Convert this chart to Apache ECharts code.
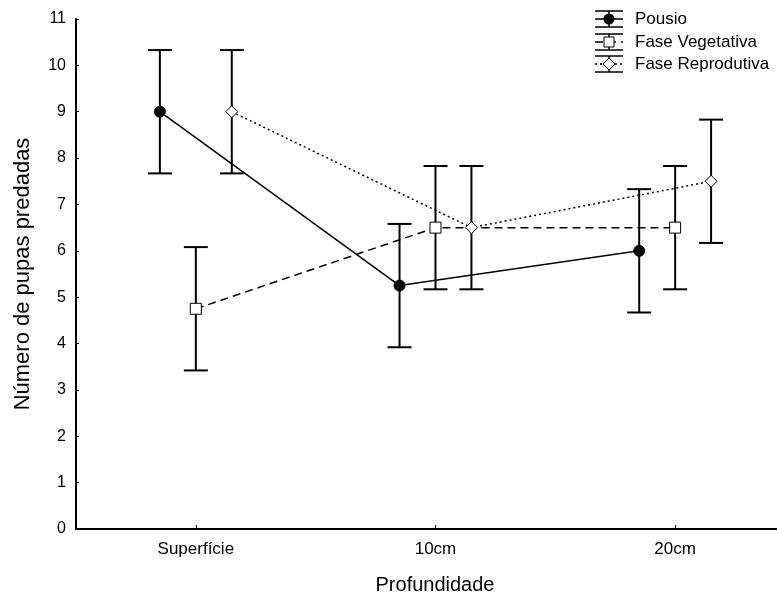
<!DOCTYPE html>
<html>
<head>
<meta charset="utf-8">
<script src="https://cdn.jsdelivr.net/npm/echarts@6/dist/echarts.min.js"></script>
<style>html,body{margin:0;padding:0;background:#fff}#c{width:777px;height:597px}</style>
</head>
<body>
<div id="c"></div>
<script>
const categories = ['Superfície', '10cm', '20cm'];
const seriesNames = ['Pousio', 'Fase Vegetativa', 'Fase Reprodutiva'];
const pousioMean = [9, 5.25, 6];
const pousioSE = [1.33, 1.33, 1.33];
const vegetativaMean = [4.75, 6.5, 6.5];
const vegetativaSE = [1.33, 1.33, 1.33];
const reprodutivaMean = [9, 6.5, 7.5];
const reprodutivaSE = [1.33, 1.33, 1.33];
const xAxisName = 'Profundidade';
const yAxisName = 'Número de pupas predadas';

const FONT = '"Liberation Sans", Arial, sans-serif';
const means = [pousioMean, vegetativaMean, reprodutivaMean];
const ses = [pousioSE, vegetativaSE, reprodutivaSE];
const offsets = [-0.15, 0, 0.15];
const symbols = ['circle', 'rect', 'diamond'];
const fills = ['#000', '#fff', '#fff'];
const dashes = ['solid', [8, 5], [2, 3]];

const series = [];
means.forEach((m, s) => {
  series.push({
    type: 'custom',
    name: seriesNames[s] + ' erro',
    z: 1,
    silent: true,
    clip: false,
    encode: { x: 0, y: [1, 2] },
    data: m.map((v, i) => [i + offsets[s], v - ses[s][i], v + ses[s][i]]),
    renderItem: function (params, api) {
      const x = api.value(0);
      const lo = api.coord([x, api.value(1)]);
      const hi = api.coord([x, api.value(2)]);
      const w = 12;
      const st = { stroke: '#000', lineWidth: 2 };
      return {
        type: 'group',
        children: [
          { type: 'line', shape: { x1: lo[0], y1: lo[1], x2: hi[0], y2: hi[1] }, style: st },
          { type: 'line', shape: { x1: lo[0] - w, y1: lo[1], x2: lo[0] + w, y2: lo[1] }, style: st },
          { type: 'line', shape: { x1: hi[0] - w, y1: hi[1], x2: hi[0] + w, y2: hi[1] }, style: st }
        ]
      };
    }
  });
});
means.forEach((m, s) => {
  series.push({
    type: 'line',
    name: seriesNames[s],
    z: 3,
    clip: false,
    data: m.map((v, i) => [i + offsets[s], v]),
    symbol: symbols[s],
    symbolSize: s === 2 ? 12 : 11,
    showAllSymbol: true,
    lineStyle: { color: '#000', width: 1.5, type: dashes[s] },
    itemStyle: { color: fills[s], borderColor: '#000', borderWidth: 1, opacity: 1 },
    emphasis: { disabled: true }
  });
});

// legend drawn as graphic elements
const legendY = [19, 42, 64];
const graphic = [];
seriesNames.forEach((name, s) => {
  const cy = legendY[s];
  const x0 = 595, x1 = 623, cx = 609;
  const st = { stroke: '#000', lineWidth: 1.5 };
  graphic.push({ type: 'line', shape: { x1: x0, y1: cy - 8, x2: x1, y2: cy - 8 }, style: st });
  graphic.push({ type: 'line', shape: { x1: x0, y1: cy + 8, x2: x1, y2: cy + 8 }, style: st });
  graphic.push({ type: 'line', shape: { x1: cx, y1: cy - 8, x2: cx, y2: cy + 8 }, style: st });
  graphic.push({ type: 'line', shape: { x1: x0, y1: cy, x2: x1, y2: cy },
    style: { stroke: '#000', lineWidth: 1.5, lineDash: dashes[s] === 'solid' ? null : dashes[s] } });
  if (s === 0) {
    graphic.push({ type: 'circle', shape: { cx: cx, cy: cy, r: 5.5 }, style: { fill: '#000' } });
  } else if (s === 1) {
    graphic.push({ type: 'rect', shape: { x: cx - 5, y: cy - 5, width: 10, height: 10 }, style: { fill: '#fff', stroke: '#000', lineWidth: 1 } });
  } else {
    graphic.push({ type: 'polygon', shape: { points: [[cx, cy - 6], [cx + 6, cy], [cx, cy + 6], [cx - 6, cy]] }, style: { fill: '#fff', stroke: '#000', lineWidth: 1 } });
  }
  graphic.push({ type: 'text', x: 635, y: cy, style: { text: name, fill: '#000', font: '17px ' + FONT, verticalAlign: 'middle', align: 'left' } });
});

const chart = echarts.init(document.getElementById('c'), null, { renderer: 'canvas' });
chart.setOption({
  animation: false,
  backgroundColor: '#fff',
  textStyle: { fontFamily: FONT, color: '#000' },
  grid: { left: 76, top: 19, right: 0, bottom: 68, containLabel: false, outerBoundsMode: 'none' },
  xAxis: {
    type: 'value',
    min: -0.5,
    max: 2.425,
    name: xAxisName,
    nameLocation: 'middle',
    nameGap: 46,
    nameTextStyle: { fontSize: 20, color: '#000', fontFamily: FONT, padding: [0, 0, 0, 17] },
    axisLine: { show: true, onZero: false, lineStyle: { color: '#000', width: 2 } },
    axisTick: { show: true, inside: true, length: 4, customValues: [0, 1, 2], lineStyle: { color: '#000', width: 1 } },
    axisLabel: { customValues: [0, 1, 2], formatter: v => categories[Math.round(v)], fontSize: 17, color: '#000', margin: 12, fontFamily: FONT },
    splitLine: { show: false }
  },
  yAxis: {
    type: 'value',
    min: 0,
    max: 11,
    interval: 1,
    name: yAxisName,
    nameLocation: 'middle',
    nameGap: 42,
    nameTextStyle: { fontSize: 22, color: '#000', fontFamily: FONT },
    axisLine: { show: true, onZero: false, lineStyle: { color: '#000', width: 2 } },
    axisTick: { show: true, inside: true, length: 3, lineStyle: { color: '#000', width: 1 } },
    axisLabel: { fontSize: 16, color: '#000', margin: 10, fontFamily: FONT },
    splitLine: { show: false }
  },
  series: series,
  graphic: graphic
});
</script>
</body>
</html>
